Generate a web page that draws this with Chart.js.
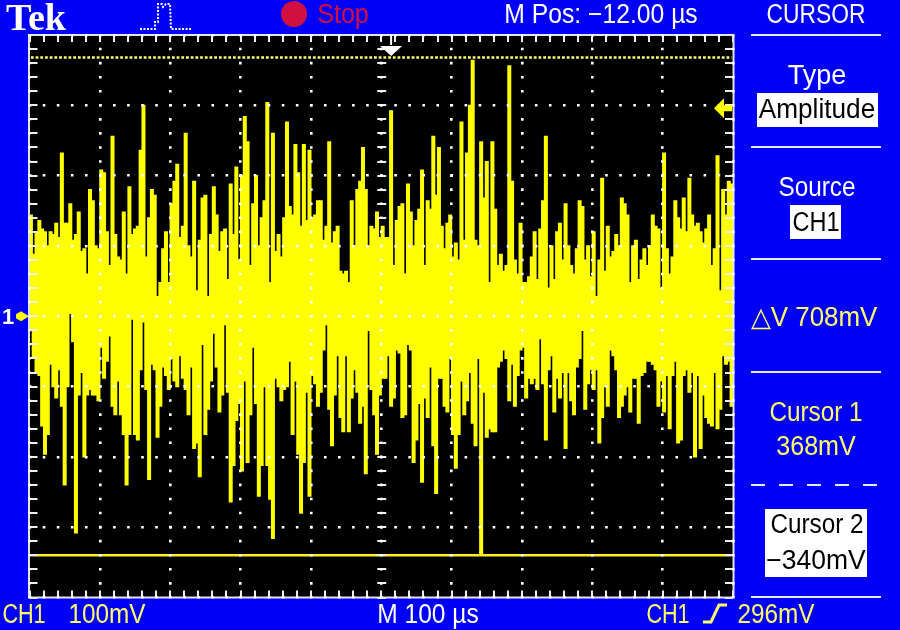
<!DOCTYPE html>
<html>
<head>
<meta charset="utf-8">
<title>Tek CURSOR</title>
<script src="https://cdn.jsdelivr.net/npm/chart.js@4"></script>
<style>
  html, body { margin: 0; padding: 0; background: #0000f8; overflow: hidden; }
  #wrap { position: relative; width: 900px; height: 630px; }
  canvas { position: absolute; left: 0; top: 0; }
  .t { position: absolute; white-space: pre; line-height: 1; font-family: "Liberation Sans", sans-serif; font-size: 27px; transform: translate(-50%, -50%) scaleX(var(--sx, 1)); }
  .w { color: #ffffff; } .y { color: #ffff66; } .k { color: #000000; } .r { color: #d01040; }
  .box { position: absolute; background: #ffffff; }
</style>
</head>
<body>
<div id="wrap">
  <canvas id="scope" width="900" height="630"></canvas>
  <div class="box" style="left:757px;top:93px;width:121px;height:34px"></div>
  <div class="box" style="left:790px;top:205px;width:51px;height:34px"></div>
  <div class="box" style="left:765px;top:509px;width:102px;height:68px"></div>
  <div class="t w" style="left:36px;top:17px;font-family:'Liberation Serif';font-weight:bold;font-size:37px;--sx:1.03">Tek</div>
  <div class="t r" style="left:343px;top:14px;--sx:.93">Stop</div>
  <div class="t w" style="left:601px;top:14px;--sx:.915">M Pos: −12.00 µs</div>
  <div class="t w" style="left:816px;top:14px;--sx:.845">CURSOR</div>
  <div class="t w" style="left:817px;top:75px">Type</div>
  <div class="t k" style="left:817px;top:109px;--sx:.97">Amplitude</div>
  <div class="t w" style="left:817px;top:187px;--sx:.9">Source</div>
  <div class="t k" style="left:816px;top:222px;--sx:.87">CH1</div>
  <div class="t y" style="left:814px;top:317px;--sx:.96">△V 708mV</div>
  <div class="t y" style="left:816px;top:412px;--sx:.9">Cursor 1</div>
  <div class="t y" style="left:816px;top:446px;--sx:.93">368mV</div>
  <div class="t k" style="left:817px;top:524px;--sx:.9">Cursor 2</div>
  <div class="t k" style="left:816px;top:560px;--sx:.98">−340mV</div>
  <div class="t y" style="left:24px;top:614px;--sx:.8">CH1</div>
  <div class="t y" style="left:107px;top:614px;--sx:.9">100mV</div>
  <div class="t w" style="left:428px;top:614px;--sx:.91">M 100 µs</div>
  <div class="t y" style="left:668px;top:614px;--sx:.8">CH1</div>
  <div class="t y" style="left:776px;top:614px;--sx:.9">296mV</div>
  <div class="t w" style="left:8px;top:317px;font-size:22px;font-weight:bold">1</div>
</div>
<script>
// trace envelope, mV, one column per scope pixel
const highs = [
  144,88,120,136,124,120,100,120,116,132,112,232,132,132,160,108,116,148,92,96,
  60,180,164,100,96,208,204,120,72,256,116,84,80,148,60,184,116,124,128,236,
  300,84,140,180,172,28,48,96,120,48,160,192,216,112,128,260,100,84,192,36,
  108,168,172,28,116,184,144,92,120,124,52,188,116,212,80,200,284,248,72,160,
  200,100,140,164,304,48,260,92,116,84,140,276,156,144,244,204,128,244,136,236,
  140,144,164,164,108,128,248,104,120,128,64,60,64,48,164,100,180,192,240,180,
  100,128,124,148,112,
  128,112,112,292,72,136,156,160,60,188,148,100,136,152,208,72,164,152,256,172,
  240,128,96,132,144,84,104,80,276,108,232,300,364,108,100,248,168,220,48,248,
  152,72,88,64,72,356,192,80,60,132,48,48,56,84,120,52,124,164,256,40,
  100,52,120,132,80,160,100,72,60,96,164,156,80,100,56,120,28,80,196,64,
  128,84,92,116,100,168,160,144,48,100,108,52,80,96,72,100,144,128,124,40,
  232,96,60,84,164,140,124,168,120,196,144,128,132,120,104,124,144,72,96,228,
  36,180,144,192,188
];
const lows = [
  -20,-60,-80,-84,-156,-196,-168,-68,-100,-116,-76,-128,-240,-100,4,-36,-308,-112,-80,-200,
  -112,-104,-112,-112,-120,-44,-88,-64,-28,-128,-140,-92,-140,-168,-240,-168,-4,-168,-176,-76,
  -8,-104,-232,-68,-76,-172,-128,-72,-84,-104,-60,-92,-100,-56,-88,-104,-140,-72,-188,-180,
  -228,-40,-168,-132,-92,-24,-72,-136,-112,-12,-108,-264,-212,-148,-124,-220,-92,-208,-140,-44,
  -124,-256,-212,-100,-212,-260,-316,-88,-100,-120,-104,-100,-64,-168,-92,-196,-280,-208,-108,-256,
  -84,-96,-128,-108,-48,-12,-132,-184,-112,-56,-144,-164,-56,-164,-116,-76,-108,-152,-128,-224,
  -20,-104,-140,-196,-112,
  -88,-88,-56,-128,-116,-48,-52,-144,-140,-40,-48,-208,-176,-124,-236,-116,-144,-72,-184,-252,
  -88,-88,-128,-136,-60,-168,-216,-168,-92,-140,-120,-80,-152,-184,-60,-340,-108,-172,-160,-164,
  -164,-72,-64,-48,-60,-120,-68,-128,-84,-48,-44,-116,-88,-96,-88,-104,-32,-96,-176,-76,
  -56,-136,-88,-116,-80,-188,-80,-120,-140,-72,-60,-20,-132,-96,-76,-104,-76,-180,-144,-100,
  -128,-48,-56,-76,-144,-128,-112,-100,-136,-88,-88,-152,-84,-80,-64,-64,-68,-76,-128,-92,
  -136,-84,-160,-84,-64,-180,-176,-84,-76,-108,-80,-200,-84,-188,-112,-144,-152,-156,-80,-160,
  -132,-56,-68,-64,-128
];
const cursor1 = 368;
const cursor2 = -340;
const triggerLevel = 296;
const triggerTime = 7;   // small divisions right of centre, top marker

const columns = highs.map((_, i) => i);
const BLUE_LINE = '#e8e8f0';
const TRACE = '#ffff00';

const dressing = {
  id: 'dressing',
  beforeDatasetsDraw(chart) {
    const { ctx, chartArea: a } = chart;
    ctx.save();
    ctx.fillStyle = '#000';
    ctx.globalCompositeOperation = 'destination-over';
    ctx.fillRect(a.left, a.top, a.width, a.height);
    ctx.restore();
  },
  afterDatasetsDraw(chart) {
    const { ctx, chartArea: a, scales } = chart;
    const sx = scales.xDiv, sy = scales.y;
    ctx.save();
    ctx.fillStyle = '#eeeeee';
    // small ticks round the frame and on the centre lines
    for (let d = -25; d <= 25; d++) {
      const px = Math.round(sx.getPixelForValue(d / 5));
      ctx.fillRect(px - 1, a.top, 2, 7);
      ctx.fillRect(px - 1, a.bottom - 7, 2, 7);
    }
    for (let d = -20; d <= 20; d++) {
      const py = Math.round(sy.getPixelForValue(d * 20));
      ctx.fillRect(a.left, py - 1, 8, 2);
      ctx.fillRect(a.right - 8, py - 1, 8, 2);
      const cx = sx.getPixelForValue(0);
      if (py < 230 || py > 430) ctx.fillRect(cx - 4, py - 1, 9, 2);
    }
    // frame
    ctx.strokeStyle = '#e4e4e4';
    ctx.lineWidth = 2;
    ctx.strokeRect(a.left - 0.5, a.top, a.width + 1, a.height);
    ctx.restore();
  },
  afterDraw(chart) {
    const { ctx, chartArea: a, scales } = chart;
    ctx.save();
    // menu separators
    ctx.fillStyle = BLUE_LINE;
    [35, 147, 259, 372, 597].forEach(y => ctx.fillRect(751, y - 1, 130, 2));
    for (let x = 751; x < 881; x += 28) ctx.fillRect(x, 484, 14, 2);
    // acquisition state
    ctx.fillStyle = '#d01040';
    ctx.beginPath();
    ctx.arc(294, 14, 13, 0, Math.PI * 2);
    ctx.fill();
    // acquisition icon
    ctx.strokeStyle = '#ffffff';
    ctx.lineWidth = 2;
    ctx.setLineDash([2, 1.5]);
    ctx.beginPath();
    ctx.moveTo(140, 29); ctx.lineTo(155, 29); ctx.lineTo(155, 22); ctx.lineTo(158, 22); ctx.lineTo(158, 4);
    ctx.lineTo(162, 4); ctx.lineTo(163, 7); ctx.lineTo(166, 4); ctx.lineTo(170, 4); ctx.lineTo(171, 29); ctx.lineTo(191, 29);
    ctx.stroke();
    ctx.setLineDash([]);
    // trigger position marker
    const tx = scales.xDiv.getPixelForValue(triggerTime / 50);
    ctx.fillStyle = '#ffffff';
    ctx.fillRect(tx - 1, a.top, 2, 10);
    ctx.beginPath();
    ctx.moveTo(tx - 11, 46); ctx.lineTo(tx + 11, 46); ctx.lineTo(tx, 56); ctx.closePath();
    ctx.fill();
    // trigger level marker
    const ty = scales.y.getPixelForValue(triggerLevel);
    ctx.fillStyle = TRACE;
    ctx.beginPath();
    ctx.moveTo(714, ty); ctx.lineTo(724, ty - 10); ctx.lineTo(724, ty - 3); ctx.lineTo(732, ty - 3);
    ctx.lineTo(732, ty + 3); ctx.lineTo(724, ty + 3); ctx.lineTo(724, ty + 10); ctx.closePath();
    ctx.fill();
    // channel 1 ground marker
    const gy = scales.y.getPixelForValue(0);
    ctx.beginPath();
    ctx.moveTo(29, gy); ctx.lineTo(21, gy - 5); ctx.lineTo(16, gy - 2); ctx.lineTo(16, gy + 2); ctx.lineTo(21, gy + 5); ctx.closePath();
    ctx.fill();
    // rising edge glyph in the status line
    ctx.strokeStyle = '#ffff66';
    ctx.lineWidth = 3;
    ctx.beginPath();
    ctx.moveTo(703, 622); ctx.lineTo(711, 622); ctx.lineTo(719, 605); ctx.lineTo(727, 605);
    ctx.stroke();
    ctx.restore();
  }
};

new Chart(document.getElementById('scope'), {
  data: {
    labels: columns,
    datasets: [
      {
        type: 'line',
        data: columns.map(() => cursor1),
        borderColor: '#ffff70',
        borderWidth: 2.5,
        borderDash: [2.8, 1.9],
        pointRadius: 0,
        order: 1
      },
      {
        type: 'line',
        data: columns.map(() => cursor2),
        borderColor: '#ffee22',
        borderWidth: 2.5,
        pointRadius: 0,
        order: 1
      },
      {
        type: 'bar',
        data: columns.map(i => [lows[i], highs[i]]),
        backgroundColor: TRACE,
        categoryPercentage: 1,
        barPercentage: 1,
        inflateAmount: 0.6,
        order: 2
      }
    ]
  },
  options: {
    responsive: false,
    animation: false,
    devicePixelRatio: 1,
    layout: { padding: { left: 29.5, right: 167, top: 35, bottom: 32.5 } },
    plugins: { legend: { display: false }, tooltip: { enabled: false } },
    scales: {
      x: { display: false },
      xDiv: {
        type: 'linear',
        axis: 'x',
        position: 'bottom',
        min: -5,
        max: 5,
        border: { display: false, dash: [2.6, 11.46], dashOffset: 1.3 },
        ticks: { display: false, stepSize: 1 },
        grid: { color: '#ffffff', lineWidth: 2.6, drawTicks: false, z: 1 }
      },
      y: {
        min: -400,
        max: 400,
        border: { display: false, dash: [2.6, 11.46], dashOffset: 1.3 },
        ticks: { display: false, stepSize: 100 },
        grid: { color: '#ffffff', lineWidth: 2.6, drawTicks: false, z: 1 }
      }
    }
  },
  plugins: [dressing]
});
</script>
</body>
</html>
